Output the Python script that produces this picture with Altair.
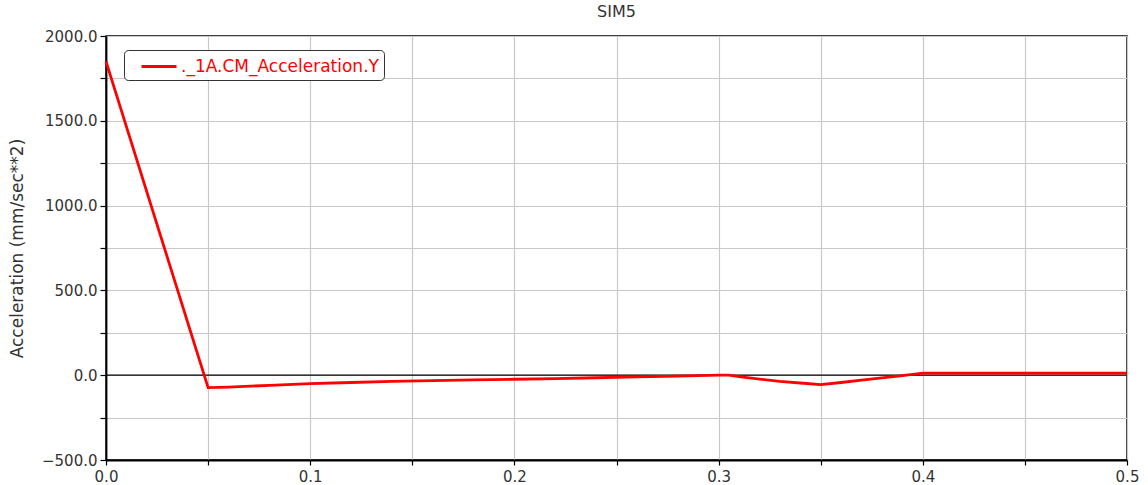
import altair as alt
import pandas as pd

# Simulation time (s) and CM acceleration in Y (mm/sec**2)
time_s = [0.0, 0.05, 0.06, 0.08, 0.10, 0.12, 0.14, 0.16, 0.18, 0.20, 0.22,
          0.24, 0.26, 0.28, 0.30, 0.305, 0.31, 0.32, 0.33, 0.34, 0.35, 0.36,
          0.37, 0.38, 0.39, 0.40, 0.45, 0.50]
accel_y = [1850, -73, -70, -60, -50, -43, -37, -32, -28, -24, -20,
           -15, -10, -5, 0, 0, -8, -23, -37, -46, -55, -43,
           -29, -16, -3, 12, 12, 12]
series_name = "._1A.CM_Acceleration.Y"

x_ticks = [round(i * 0.05, 2) for i in range(11)]
y_ticks = list(range(-500, 2001, 250))

df = pd.DataFrame({"t": time_s, "a": accel_y, "series": series_name})

FONT = "DejaVu Sans"
TXT = "#333333"

line = alt.Chart(df).mark_line(strokeWidth=2.8, interpolate="linear").encode(
    x=alt.X(
        "t:Q",
        scale=alt.Scale(domain=[0, 0.5], nice=False, zero=False),
        axis=alt.Axis(
            title=None,
            values=x_ticks,
            labelExpr="abs(round(datum.value*10) - datum.value*10) < 1e-6 ? format(datum.value, '.1f') : ''",
            tickSize=5,
            labelPadding=4,
            labelFlush=False,
        ),
    ),
    y=alt.Y(
        "a:Q",
        scale=alt.Scale(domain=[-500, 2000], nice=False, zero=False),
        axis=alt.Axis(
            title="Acceleration (mm/sec**2)",
            values=y_ticks,
            labelExpr="datum.value % 500 == 0 ? format(datum.value, '.1f') : ''",
            tickSize=6,
            labelPadding=3,
            titlePadding=15,
            labelFlush=False,
        ),
    ),
    color=alt.Color(
        "series:N",
        scale=alt.Scale(domain=[series_name], range=["#ff0000"]),
        legend=alt.Legend(
            title=None,
            orient="none",
            legendX=18,
            legendY=14,
            fillColor="white",
            strokeColor="#333333",
            cornerRadius=4,
            padding=5,
            # short horizontal stroke drawn to the right of the symbol slot
            symbolType="M0.1,0H3.6",
            symbolStrokeWidth=3,
            symbolSize=400,
            symbolStrokeColor="#ff0000",
            symbolFillColor="transparent",
            labelColor="#ff0000",
            labelFont=FONT,
            labelFontSize=17,
            labelOffset=29,
            labelLimit=400,
        ),
    ),
)

zero_line = alt.Chart(pd.DataFrame({"y": [0]})).mark_rule(
    color="black", strokeWidth=1.3
).encode(y="y:Q")

chart = (
    alt.layer(zero_line, line)
    .properties(
        width=1021,
        height=424,
        title=alt.TitleParams(
            "SIM5", font=FONT, fontSize=16, fontWeight="normal", color=TXT,
            anchor="middle", offset=9,
        ),
        autosize=alt.AutoSizeParams(type="none"),
        padding={"left": 106, "top": 36, "right": 21, "bottom": 25},
    )
    .configure_view(stroke="black", strokeWidth=1.5)
    .configure_axis(
        grid=True,
        gridColor="#c8c8c8",
        gridWidth=1.2,
        domainColor="black",
        domainWidth=1.8,
        tickColor="black",
        tickWidth=1.2,
        labelFont=FONT,
        labelFontSize=15,
        labelColor=TXT,
        titleFont=FONT,
        titleFontSize=17,
        titleFontWeight="normal",
        titleColor=TXT,
    )
)

chart.save("out.html", embed_options={"renderer": "svg", "actions": False})
